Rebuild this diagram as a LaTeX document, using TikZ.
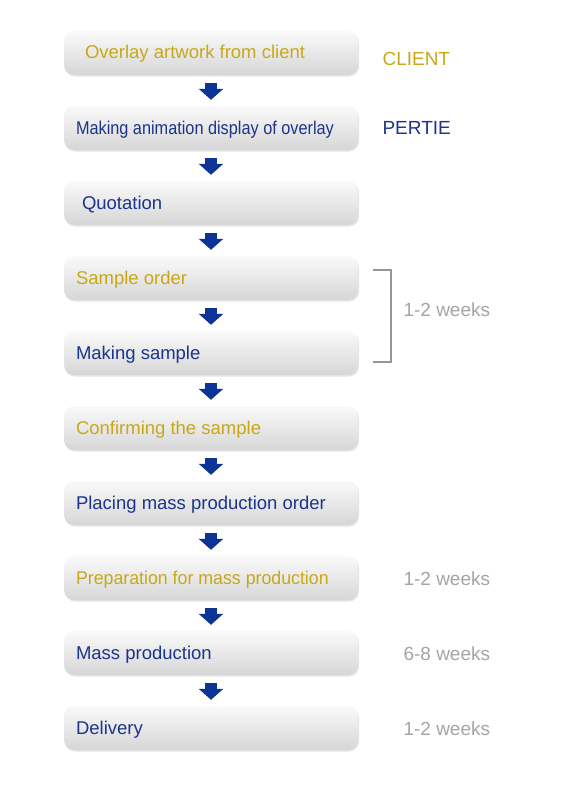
\documentclass[tikz,border=0pt]{standalone}
\usepackage{fontspec}
\setmainfont{Liberation Sans}
\usepackage{graphicx}
\usetikzlibrary{arrows.meta,shadows}

\definecolor{ovgold}{RGB}{200,168,24}
\definecolor{ovblue}{RGB}{28,52,138}
\definecolor{arblue}{RGB}{12,52,150}
\definecolor{wkgray}{RGB}{165,165,165}

\begin{document}
\begin{tikzpicture}[x=1pt,y=-1pt,
    stepbox/.style={rounded corners=10pt, minimum width=294pt, minimum height=44pt,
        top color=black!2, bottom color=black!16,
        drop shadow={opacity=0.2, shadow xshift=1pt, shadow yshift=-1.5pt}},
    steptext/.style={anchor=west, inner xsep=12pt, text height=13pt, text depth=4pt,
        font=\fontsize{18.5}{20}\selectfont},
    side/.style={anchor=west, font=\fontsize{19}{21}\selectfont},
    flow/.style={arblue, line width=12pt, -{Triangle[width=24pt,length=11pt]},
        shorten <=8pt, shorten >=6pt}]
\fill[white] (0,0) rectangle (566,800);
\useasboundingbox (0,0) rectangle (566,800);

% process steps
\foreach \txt/\col [count=\i] in {
    \hspace*{9pt}Overlay artwork from client/ovgold,
    {\scalebox{0.88}[1]{Making animation display of overlay}}/ovblue,
    \hspace*{6pt}Quotation/ovblue,
    Sample order/ovgold,
    Making sample/ovblue,
    Confirming the sample/ovgold,
    Placing mass production order/ovblue,
    {\scalebox{0.96}[1]{Preparation for mass production}}/ovgold,
    Mass production/ovblue,
    Delivery/ovblue}
{
    \node[stepbox] (b\i) at (211,{53+75*(\i-1)}) {};
    \node[steptext, text=\col] (t\i) at ([yshift=-1.5pt]b\i.west) {\txt};
}

\foreach \i [evaluate=\i as \j using int(\i+1)] in {1,...,9}
{
    \draw[flow] (b\i) -- (b\j);
}

% who / how long
\node[side, ovgold] (client) at (379,59) {CLIENT};
\node[side, ovblue] (pertie) at (379,128) {PERTIE};

\coordinate (brtop) at (373,270);
\coordinate (brbot) at (373,362);
\draw[wkgray!90!black, line width=1.3pt] (brtop) -| (391,316) |- (brbot);

\node[side, wkgray] (wk1) at (400,310) {1-2 weeks};
\node[side, wkgray] (wk2) at (400,579) {1-2 weeks};
\node[side, wkgray] (wk3) at (400,654) {6-8 weeks};
\node[side, wkgray] (wk4) at (400,729) {1-2 weeks};
\end{tikzpicture}
\end{document}
